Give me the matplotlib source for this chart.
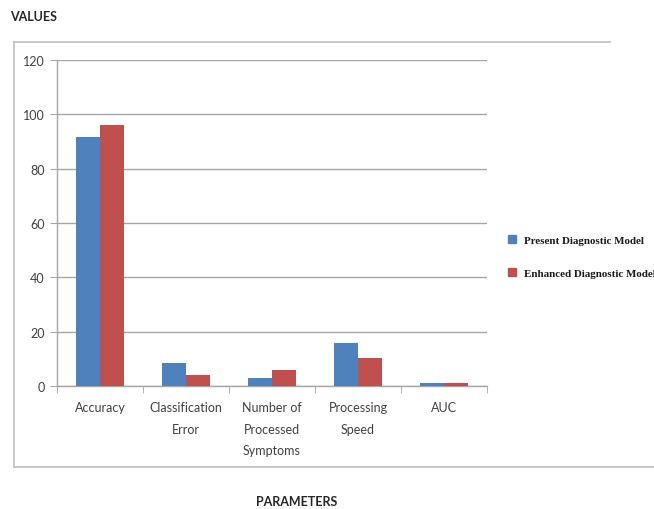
import matplotlib
matplotlib.use("Agg")
import matplotlib.pyplot as plt
import numpy as np
from matplotlib.patches import Patch
from matplotlib.lines import Line2D

categories = ["Accuracy", "Classification\nError", "Number of\nProcessed\nSymptoms", "Processing\nSpeed", "AUC"]
present = [91.5, 8.5, 3, 16, 1.2]
enhanced = [96, 4, 6, 10.3, 1.2]
series_names = ["Present Diagnostic Model", "Enhanced Diagnostic Model"]
yticks = [0, 20, 40, 60, 80, 100, 120]

blue = "#4F81BD"
red = "#C0504D"
grid_c = "#A6A6A6"
txt_c = "#404040"

fig = plt.figure(figsize=(6.54, 5.10), dpi=100)
W, H = 654, 510
ax = fig.add_axes([57 / W, 1 - 387 / H, (487 - 57) / W, (387 - 61) / H])

x = np.arange(len(categories))
bw = 0.28
ax.bar(x - bw / 2, present, bw, color=blue, zorder=3)
ax.bar(x + bw / 2, enhanced, bw, color=red, zorder=3)

ax.set_xlim(-0.5, len(categories) - 0.5)
ax.set_ylim(0, 120)
ax.set_yticks(yticks)
ax.set_yticklabels([str(v) for v in yticks], fontsize=9, color=txt_c, family="Lato")
ax.yaxis.grid(True, color=grid_c, linewidth=1, zorder=0)
ax.set_axisbelow(True)

ax.set_xticks(x)
ax.set_xticklabels(categories, fontsize=9, color=txt_c, family="Lato", linespacing=1.95)
ax.tick_params(axis="x", length=0, pad=11)
ax.set_xticks(np.arange(-0.5, len(categories)), minor=True)
ax.tick_params(axis="x", which="minor", length=5, color=grid_c, direction="out")
ax.tick_params(axis="y", length=5, color=grid_c, direction="out", pad=4)

for s in ["top", "right"]:
    ax.spines[s].set_visible(False)
for s in ["left", "bottom"]:
    ax.spines[s].set_color(grid_c)
    ax.spines[s].set_linewidth(1)

# chart-area border
fig.add_artist(Line2D([14 / W, 610 / W], [1 - 43 / H, 1 - 43 / H], color="#BFBFBF", lw=1.2))
fig.add_artist(Line2D([14 / W, 14 / W], [1 - 43 / H, 1 - 468 / H], color="#BFBFBF", lw=1.2))
fig.add_artist(Line2D([14 / W, 654 / W], [1 - 468 / H, 1 - 468 / H], color="#BFBFBF", lw=1.2))

fig.text(10 / W, 1 - 17 / H, "VALUES", fontsize=9, fontweight="bold", color="#262626",
         family="Lato", va="center", ha="left")
fig.text(297 / W, 1 - 502 / H, "PARAMETERS", fontsize=9, fontweight="bold", color="#262626",
         family="Lato", va="center", ha="center")

handles = [Patch(color=blue), Patch(color=red)]
leg = fig.legend(handles, series_names, loc="upper left", bbox_to_anchor=(505 / W, 1 - 233 / H),
                 frameon=False, handlelength=0.7, handleheight=0.7, handletextpad=0.7,
                 labelspacing=2.1, borderaxespad=0, borderpad=0.3,
                 prop={"family": "Liberation Serif", "weight": "bold", "size": 7.9})
for t in leg.get_texts():
    t.set_color("#1a1a1a")

fig.savefig("out.png", dpi=100)
